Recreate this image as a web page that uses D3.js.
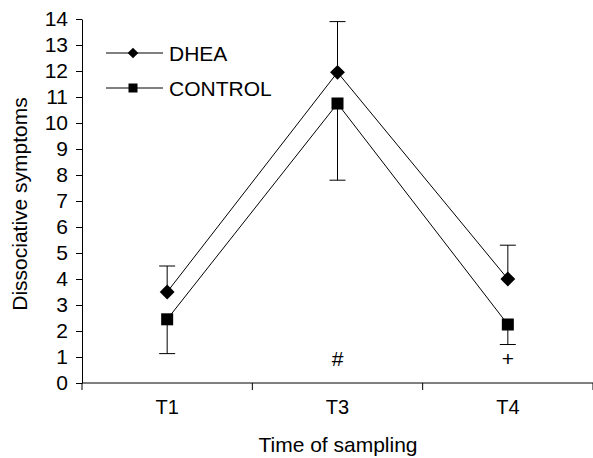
<!DOCTYPE html>
<html lang="en">
<head>
    <title>Dissociative symptoms</title>
    <script src="https://d3js.org/d3.v7.min.js"></script>
    <style>
        body { margin: 0; background: #fff; }
        text { font-family: Arial, "Liberation Sans", sans-serif; fill: #000; }
        .line { fill: none; stroke: #000; stroke-width: 1px; }
    </style>
</head>
<body>
    <svg id="plot"></svg>

    <script>
        var times = ["T1", "T3", "T4"];
        var dheaMean = [3.5, 11.95, 4.0];
        var dheaUpper = [4.5, 13.9, 5.3];
        var controlMean = [2.45, 10.75, 2.25];
        var controlLower = [1.13, 7.8, 1.48];
        var marks = ["", "#", "+"];
        var yTicks = d3.range(0, 15);

        var margin = { top: 19, right: 0, bottom: 75, left: 82 };
        var width = 593 - margin.left - margin.right;
        var height = 458 - margin.top - margin.bottom;

        var svg = d3.select("#plot")
            .attr("width", 593)
            .attr("height", 458)
            .append("g")
            .attr("transform", "translate(" + margin.left + "," + margin.top + ")");

        var x = d3.scaleBand().domain(times).range([0, width]);
        var y = d3.scaleLinear().domain([0, 14]).range([height, 0]);
        var cx = function (i) { return x(times[i]) + x.bandwidth() / 2; };

        // y axis
        var yAxis = svg.append("g")
            .call(d3.axisLeft(y).tickValues(yTicks).tickSize(6).tickSizeOuter(0).tickPadding(8));
        yAxis.selectAll("text").style("font-size", "21px");

        // x axis, ticks on the band edges
        var xAxis = svg.append("g")
            .attr("transform", "translate(0," + height + ")")
            .call(d3.axisBottom(x).tickSize(0).tickPadding(17));
        xAxis.select(".domain").attr("d", "M0,0H" + width);
        xAxis.selectAll("text").style("font-size", "20px");
        xAxis.selectAll(".edge")
            .data(d3.range(times.length + 1))
            .enter().append("line")
            .attr("x1", function (i) { return i * x.step(); })
            .attr("x2", function (i) { return i * x.step(); })
            .attr("y1", 0).attr("y2", 7)
            .attr("stroke", "#000");
        svg.selectAll(".domain, .tick line").attr("stroke", "#000");

        // error bars
        function errorBars(means, ends) {
            var g = svg.append("g");
            times.forEach(function (t, i) {
                g.append("line")
                    .attr("x1", cx(i)).attr("x2", cx(i))
                    .attr("y1", y(means[i])).attr("y2", y(ends[i]))
                    .attr("stroke", "#000");
                g.append("line")
                    .attr("x1", cx(i) - 8).attr("x2", cx(i) + 8)
                    .attr("y1", y(ends[i])).attr("y2", y(ends[i]))
                    .attr("stroke", "#000");
            });
        }
        errorBars(dheaMean, dheaUpper);
        errorBars(controlMean, controlLower);

        var line = d3.line()
            .x(function (d, i) { return cx(i); })
            .y(function (d) { return y(d); });

        svg.append("path").datum(dheaMean).attr("class", "line").attr("d", line);
        svg.append("path").datum(controlMean).attr("class", "line").attr("d", line);

        var diamond = d3.symbol().type(d3.symbolDiamond2);
        svg.selectAll(".dhea")
            .data(dheaMean)
            .enter().append("path")
            .attr("d", diamond.size(140)())
            .attr("transform", function (d, i) { return "translate(" + cx(i) + "," + y(d) + ")"; })
            .attr("fill", "#000");

        svg.selectAll(".control")
            .data(controlMean)
            .enter().append("rect")
            .attr("x", function (d, i) { return cx(i) - 6; })
            .attr("y", function (d) { return y(d) - 6; })
            .attr("width", 12).attr("height", 12)
            .attr("fill", "#000");

        // significance marks
        svg.selectAll(".mark")
            .data(marks)
            .enter().append("text")
            .attr("x", function (d, i) { return cx(i); })
            .attr("y", y(0.88))
            .attr("text-anchor", "middle")
            .attr("dominant-baseline", "middle")
            .style("font-size", "21px")
            .text(function (d) { return d; });

        // legend
        var legendNames = ["DHEA", "CONTROL"];
        var legend = svg.selectAll(".legend")
            .data(legendNames)
            .enter().append("g")
            .attr("transform", function (d, i) { return "translate(24," + (34 + i * 35) + ")"; });
        legend.append("line")
            .attr("x1", 0).attr("x2", 57).attr("y1", 0).attr("y2", 0)
            .attr("stroke", "#000");
        legend.filter(function (d, i) { return i === 0; })
            .append("path")
            .attr("d", diamond.size(72)())
            .attr("transform", "translate(27,0)");
        legend.filter(function (d, i) { return i === 1; })
            .append("rect")
            .attr("x", 22.5).attr("y", -4.5).attr("width", 9).attr("height", 9);
        legend.append("text")
            .attr("x", 63).attr("y", 0)
            .attr("dy", "0.36em")
            .style("font-size", "21px")
            .text(function (d) { return d; });

        // axis titles
        svg.append("text")
            .attr("transform", "rotate(-90)")
            .attr("x", -(204 - margin.top))
            .attr("y", 27 - margin.left)
            .style("text-anchor", "middle")
            .style("font-size", "21px")
            .text("Dissociative symptoms");

        svg.append("text")
            .attr("x", 338 - margin.left)
            .attr("y", 452 - margin.top)
            .style("text-anchor", "middle")
            .style("font-size", "21px")
            .text("Time of sampling");
    </script>
</body>
</html>
